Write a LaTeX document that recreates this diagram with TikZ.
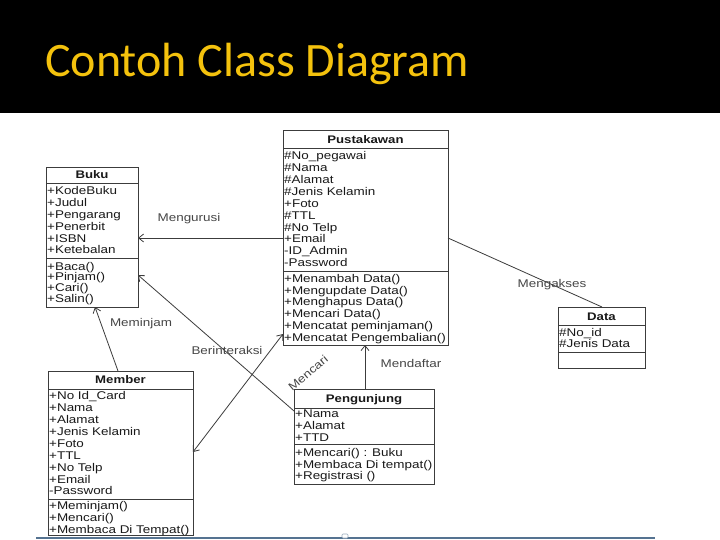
\documentclass[tikz,border=0pt]{standalone}
\usepackage{fontspec}
\setmainfont{Liberation Sans}[FakeStretch=1.2]
\newfontfamily\titlefont{Carlito}
\usetikzlibrary{arrows.meta,fit}
\definecolor{titleyellow}{RGB}{244,194,13}
\definecolor{ink}{RGB}{25,25,25}
\definecolor{lineg}{RGB}{60,60,60}
\definecolor{labelg}{RGB}{70,70,70}
\definecolor{baseblue}{RGB}{85,115,145}
\tikzset{
 classbox/.style={draw=lineg, line width=0.9pt, inner sep=0pt, outer sep=0pt},
 sepline/.style={draw=lineg, line width=0.9pt},
 classtitle/.style={font=\fontsize{11}{12}\selectfont\bfseries, text=ink, inner sep=0pt, anchor=base},
 rowtxt/.style={font=\fontsize{11.2}{12}\selectfont, text=ink, anchor=base west, inner sep=0pt},
 conn/.style={draw=lineg, line width=0.8pt},
 arr/.style={-{Straight Barb[length=5pt,width=8pt]}},
 lbl/.style={font=\fontsize{11.2}{12}\selectfont, text=labelg, inner sep=0pt},
}
\newcommand\rowlist[5]{% prefix, x, first baseline, step, list
  \foreach \t [count=\i] in {#5} {\node[rowtxt] (#1\i) at (#2, {#3+(\i-1)*#4}) {\t};}}
\newcommand\classsep[2]{% node, y
  \draw[sepline] (#1.west |- 0,#2) -- (#1.east |- 0,#2);}
\begin{document}
\begin{tikzpicture}[x=1pt,y=-1pt]
\useasboundingbox (0,0) rectangle (720,540);
\fill[white] (0,0) rectangle (720,540);
\fill[black] (0,0) rectangle (720,113);
\node[font=\titlefont\fontsize{48}{52}\selectfont, text=titleyellow, anchor=base west, inner sep=0pt] (title) at (45,77) {Contoh Class Diagram};

% Buku
\node[classbox, fit={(46,167) (138,307)}] (buku) {};
\classsep{buku}{183}
\classsep{buku}{258}
\node[classtitle] (buku-t) at (buku.north |- 0,179) {Buku};
\rowlist{buku-a}{47}{194.5}{11.9}{+KodeBuku,+Judul,+Pengarang,+Penerbit,+ISBN,+Ketebalan}
\rowlist{buku-m}{47}{270}{10.7}{+Baca(),+Pinjam(),+Cari(),+Salin()}

% Pustakawan
\node[classbox, fit={(283,130) (448,345)}] (pust) {};
\classsep{pust}{148}
\classsep{pust}{271}
\node[classtitle] (pust-t) at (pust.north |- 0,144) {Pustakawan};
\rowlist{pust-a}{284}{159.7}{11.9}{\#No\_pegawai,\#Nama,\#Alamat,\#Jenis Kelamin,+Foto,\#TTL,\#No Telp,+Email,-ID\_Admin,-Password}
\rowlist{pust-m}{284}{282.3}{11.8}{+Menambah Data(),+Mengupdate Data(),+Menghapus Data(),+Mencari Data(),+Mencatat peminjaman(),+Mencatat Pengembalian()}

% Member
\node[classbox, fit={(48,371) (193,535)}] (member) {};
\classsep{member}{389}
\classsep{member}{499}
\node[classtitle] (member-t) at (member.north |- 0,383) {Member};
\rowlist{member-a}{49}{399.7}{11.9}{+No Id\_Card,+Nama,+Alamat,+Jenis Kelamin,+Foto,+TTL,+No Telp,+Email,-Password}
\rowlist{member-m}{49}{509.7}{11.65}{+Meminjam(),+Mencari(),+Membaca Di Tempat()}

% Pengunjung
\node[classbox, fit={(294,389) (434,484)}] (peng) {};
\classsep{peng}{408}
\classsep{peng}{444}
\node[classtitle] (peng-t) at (peng.north |- 0,402.3) {Pengunjung};
\rowlist{peng-a}{295}{417.3}{12}{+Nama,+Alamat,+TTD}
\rowlist{peng-m}{295}{456.7}{11.5}{+Mencari() : Buku,+Membaca Di tempat(),+Registrasi ()}

% Data
\node[classbox, fit={(558,307) (645,368)}] (data) {};
\classsep{data}{325}
\classsep{data}{352}
\node[classtitle] (data-t) at (data.north |- 0,320) {Data};
\rowlist{data-a}{559}{336.5}{11.3}{\#No\_id,\#Jenis Data}

% Connectors
\draw[conn,arr] (pust.west |- 0,238) -- (buku.east |- 0,238);
\draw[conn,arr] (member.north -| 118,0) -- (buku.south -| 95,0);
\draw[conn,arr] (peng.west |- 0,411) -- (buku.east |- 0,275);
\draw[conn,{Straight Barb[length=5pt,width=8pt]}-{Straight Barb[length=5pt,width=8pt]}] (member.east |- 0,452) -- (pust.west |- 0,334);
\draw[conn,arr] (peng.north -| 365,0) -- (pust.south -| 365,0);
\draw[conn] (pust.east |- 0,238) -- (data.north -| 602,0);

% Labels
\node[lbl] (l-mengurusi) at (189,219) {Mengurusi};
\node[lbl] (l-meminjam) at (141,324) {Meminjam};
\node[lbl] (l-berinteraksi) at (227,350) {Berinteraksi};
\node[lbl, rotate=40] (l-mencari) at (308,373) {Mencari};
\node[lbl] (l-mendaftar) at (411,363) {Mendaftar};
\node[lbl] (l-mengakses) at (552,285) {Mengakses};

% bottom rule
\draw[baseblue, line width=1.5pt] (36,538) -- (655,538);
\draw[baseblue!60, fill=white, line width=0.6pt, rounded corners=1pt] (342,538) rectangle (348,534);
\end{tikzpicture}
\end{document}
